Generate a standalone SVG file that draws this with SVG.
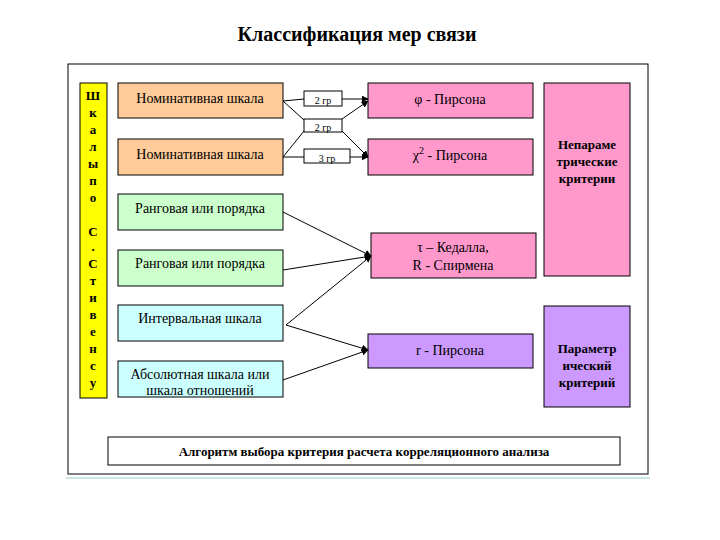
<svg xmlns="http://www.w3.org/2000/svg" width="720" height="540" viewBox="0 0 720 540" font-family="'Liberation Serif','Times New Roman','DejaVu Serif',serif">
<style>
text{font-family:"Liberation Serif","Times New Roman","DejaVu Serif",serif;fill:#000}
.b{stroke:#000;stroke-width:1}
.t{font-size:14px;text-anchor:middle}
.s{font-size:10px;text-anchor:middle}
.bd{font-weight:bold;font-size:13px;text-anchor:middle}
.c{stroke:#000;stroke-width:1;fill:none}
</style>
<defs><marker id="a" viewBox="0 0 10 10" refX="9" refY="5" markerWidth="7" markerHeight="7" orient="auto"><path d="M0,0L10,5L0,10z" fill="#000"/></marker></defs>
<rect width="720" height="540" fill="#fff"/>
<line x1="66" y1="478" x2="650" y2="478" stroke="#9cc" stroke-width="1"/>
<text x="357" y="41" font-size="20" font-weight="bold" text-anchor="middle">Классификация мер связи</text>
<rect x="68" y="64" width="580" height="410" fill="#fff" class="b"/>
<g id="stevens"><rect x="80" y="83" width="27" height="315" fill="#ff0" class="b"/>
<text class="bd" font-size="13"><tspan x="93" y="100">Ш</tspan><tspan x="93" y="117">к</tspan><tspan x="93" y="134">а</tspan><tspan x="93" y="151">л</tspan><tspan x="93" y="168">ы</tspan><tspan x="93" y="185">п</tspan><tspan x="93" y="202">о</tspan><tspan x="93" y="236">С</tspan><tspan x="93" y="251">.</tspan><tspan x="93" y="268">С</tspan><tspan x="93" y="285">т</tspan><tspan x="93" y="302">и</tspan><tspan x="93" y="319">в</tspan><tspan x="93" y="336">е</tspan><tspan x="93" y="353">н</tspan><tspan x="93" y="370">с</tspan><tspan x="93" y="387">у</tspan></text></g>
<g id="n1"><rect x="118" y="83" width="165" height="35" fill="#fc9" class="b"/><text class="t" x="200" y="103">Номинативная шкала</text></g>
<g id="n2"><rect x="118" y="139" width="165" height="36" fill="#fc9" class="b"/><text class="t" x="200" y="159">Номинативная шкала</text></g>
<g id="r1"><rect x="118" y="194" width="165" height="36" fill="#cfc" class="b"/><text class="t" x="200" y="213" font-size="13">Ранговая или порядка</text></g>
<g id="r2"><rect x="118" y="250" width="165" height="36" fill="#cfc" class="b"/><text class="t" x="200" y="268" font-size="13">Ранговая или порядка</text></g>
<g id="i1"><rect x="118" y="305" width="165" height="36" fill="#cff" class="b"/><text class="t" x="200" y="323" font-size="13">Интервальная шкала</text></g>
<g id="a1"><rect x="118" y="361" width="165" height="36" fill="#cff" class="b"/><text class="t" x="200" y="379" font-size="13">Абсолютная шкала или</text><text class="t" x="200" y="395" font-size="13">шкала отношений</text></g>
<g id="l1"><rect x="304" y="91" width="38" height="15" fill="#fff" class="b"/><text class="s" x="323" y="104">2 гр</text></g>
<g id="l2"><rect x="304" y="119" width="38" height="13" fill="#fff" class="b"/><text class="s" x="323" y="131">2 гр</text></g>
<g id="l3"><rect x="304" y="149" width="46" height="14" fill="#fff" class="b"/><text class="s" x="327" y="162">3 гр</text></g>
<g id="phi"><rect x="368" y="83" width="165" height="35" fill="#f9c" class="b"/><text class="t" x="450" y="104" font-size="15">φ - Пирсона</text></g>
<g id="chi"><rect x="368" y="139" width="165" height="36" fill="#f9c" class="b"/><text class="t" x="450" y="160" font-size="15">χ<tspan dy="-6" font-size="10">2</tspan><tspan dy="6"> - Пирсона</tspan></text></g>
<g id="tau"><rect x="371" y="233" width="165" height="45" fill="#f9c" class="b"/><text class="t" x="453" y="252">τ – Кедалла,</text><text class="t" x="453" y="270">R - Спирмена</text></g>
<g id="rp"><rect x="368" y="334" width="165" height="34" fill="#c9f" class="b"/><text class="t" x="450" y="355" font-size="15">r - Пирсона</text></g>
<g id="np"><rect x="544" y="83" width="86" height="193" fill="#f9c" class="b"/><text class="bd" x="587" y="149">Непараме</text><text class="bd" x="587" y="166">трические</text><text class="bd" x="587" y="183">критерии</text></g>
<g id="pp"><rect x="544" y="306" width="86" height="101" fill="#c9f" class="b"/><text class="bd" x="587" y="353">Параметр</text><text class="bd" x="587" y="370">ический</text><text class="bd" x="587" y="387">критерий</text></g>
<g id="alg"><rect x="108" y="437" width="512" height="28" fill="#fff" class="b"/><text class="bd" x="364" y="456">Алгоритм выбора критерия расчета корреляционного анализа</text></g>
<g id="connectors">
<path class="c" d="M283,101L304,99M342,99L368,99" marker-end="url(#a)"/>
<path class="c" d="M283,101L304,120"/>
<path class="c" d="M342,131L368,157" marker-end="url(#a)"/>
<path class="c" d="M283,157L304,131"/>
<path class="c" d="M342,119L368,101" marker-end="url(#a)"/>
<path class="c" d="M283,157L304,157M350,157L368,157" marker-end="url(#a)"/>
<path class="c" d="M283,212L371,256" marker-end="url(#a)"/>
<path class="c" d="M283,270L371,256" marker-end="url(#a)"/>
<path class="c" d="M286,325L371,256" marker-end="url(#a)"/>
<path class="c" d="M286,325L368,350" marker-end="url(#a)"/>
<path class="c" d="M283,380L368,350" marker-end="url(#a)"/>
</g>
</svg>
